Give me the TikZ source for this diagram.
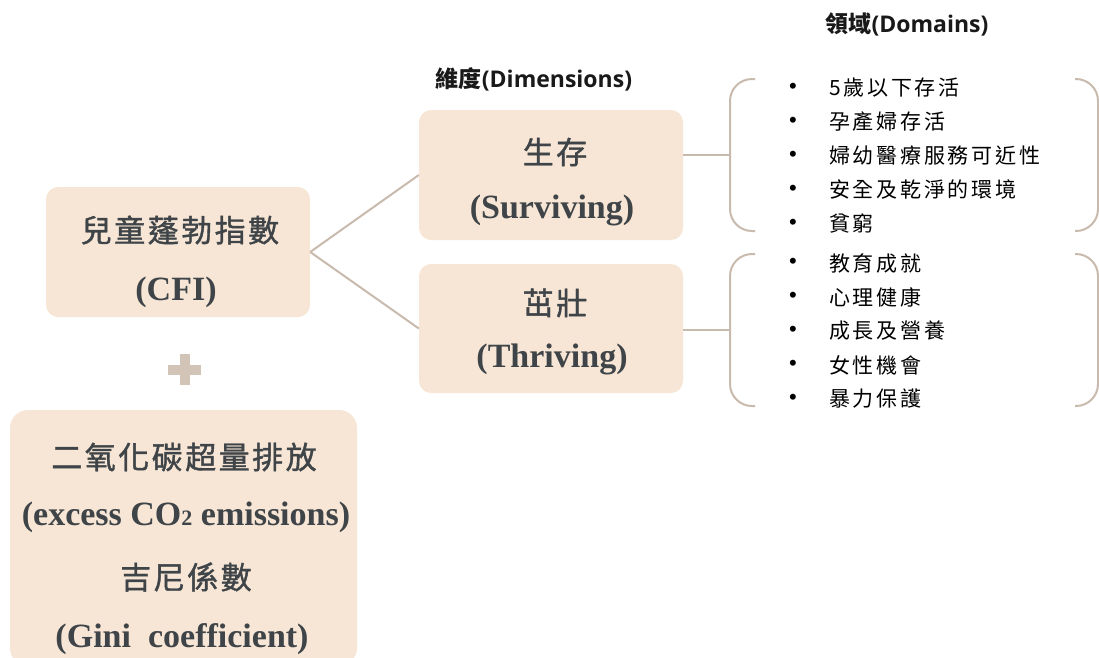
\documentclass[tikz,border=0pt]{standalone}
\usepackage{fontspec}
\setmainfont{Liberation Serif}
\newfontfamily\cjk[LetterSpace=8,FakeBold=1.3]{Noto Sans CJK TC}
\newfontfamily\cjkls[LetterSpace=13]{Noto Sans CJK TC}
\newfontfamily\hdrcjk{Noto Sans CJK TC}
\newfontfamily\hdrlat{Open Sans}
\newfontfamily\bulfont{Liberation Sans}
\definecolor{boxfill}{HTML}{F7E6D5}
\definecolor{linec}{HTML}{C8BBAD}
\definecolor{plusc}{HTML}{D2C5B7}
\definecolor{boxtext}{HTML}{3F4448}
\tikzset{
  boxnode/.style={fill=boxfill, draw=none, rounded corners=12pt, inner sep=0pt},
  cjkline/.style={font=\cjk\fontsize{31}{36}\selectfont, text=boxtext, inner sep=0pt},
  latline/.style={font=\bfseries\fontsize{34}{38}\selectfont, text=boxtext, inner sep=0pt},
  hdr/.style={inner sep=0pt, text=black!90},
  conn/.style={draw=linec, line width=2pt},
  brace/.style={draw=linec, line width=2pt, rounded corners=22pt},
  bul/.style={font=\bulfont\fontsize{22}{22}\selectfont, inner sep=0pt},
  item/.style={font=\cjkls\fontsize{21}{24}\selectfont, anchor=west, inner sep=0pt}
}
\begin{document}
\begin{tikzpicture}[x=1pt,y=-1pt]
\useasboundingbox (0,0) rectangle (1099,657);
\clip (0,0) rectangle (1099,657);
% boxes
\node[boxnode, minimum width=264pt, minimum height=130pt] (cfi) at (178,252) {};
\node[boxnode, minimum width=347pt, minimum height=256pt, rounded corners=18pt] (extra) at (183.5,538) {};
\node[boxnode, minimum width=264pt, minimum height=130pt] (surv) at (551,175) {};
\node[boxnode, minimum width=264pt, minimum height=129pt] (thr) at (551,328.5) {};
% box texts
\node[cjkline] (cfi1) at (180,230) {兒童蓬勃指數};
\node[latline] (cfi2) at (176,292) {(CFI)};
\node[cjkline] (surv1) at (555,152) {生存};
\node[latline] (surv2) at (552,210) {(Surviving)};
\node[cjkline] (thr1) at (555,303) {茁壯};
\node[latline] (thr2) at (552,359) {(Thriving)};
\node[cjkline] (ex1) at (184,457) {二氧化碳超量排放};
\node[latline] (ex2) at (186,517) {(excess CO{\fontsize{22}{22}\selectfont 2} emissions)};
\node[cjkline] (ex3) at (186,577) {吉尼係數};
\node[latline] (ex4) at (182,639) {(Gini\ \ coefficient)};
% plus
\fill[plusc] (168,364.5) rectangle (201,374.5);
\fill[plusc] (179.5,354) rectangle (189.5,385);
% headers
\node[hdr] (dimh) at (534,79) {\hdrcjk\bfseries\fontsize{23}{26}\selectfont 維度\hdrlat\bfseries(Dimensions)};
\node[hdr] (domh) at (907,24) {\hdrcjk\bfseries\fontsize{23}{26}\selectfont 領域\hdrlat\bfseries(Domains)};
% braces
\coordinate (b1m) at (730,155);
\coordinate (b2m) at (730,330);
\draw[brace] (755,79) -- (730,79) -- (730,231) -- (755,231);
\draw[brace] (1075,79) -- (1098,79) -- (1098,231) -- (1075,231);
\draw[brace] (755,254) -- (730,254) -- (730,406) -- (755,406);
\draw[brace] (1075,254) -- (1098,254) -- (1098,406) -- (1075,406);
% connectors
\draw[conn] (cfi.east) -- (surv.west);
\draw[conn] (cfi.east) -- (thr.west);
\draw[conn] (surv.east |- b1m) -- (b1m);
\draw[conn] (thr.east |- b2m) -- (b2m);
% items
\foreach \y/\t [count=\i] in {88/5歲以下存活, 122/孕產婦存活, 156/婦幼醫療服務可近性, 190/安全及乾淨的環境, 224/貧窮, 263/教育成就, 297/心理健康, 331/成長及營養, 365/女性機會, 399/暴力保護}{
  \node[bul] (bu\i) at (793,\y) {•};
  \node[item] (it\i) at (829,\y) {\t};
}
\end{tikzpicture}
\end{document}
